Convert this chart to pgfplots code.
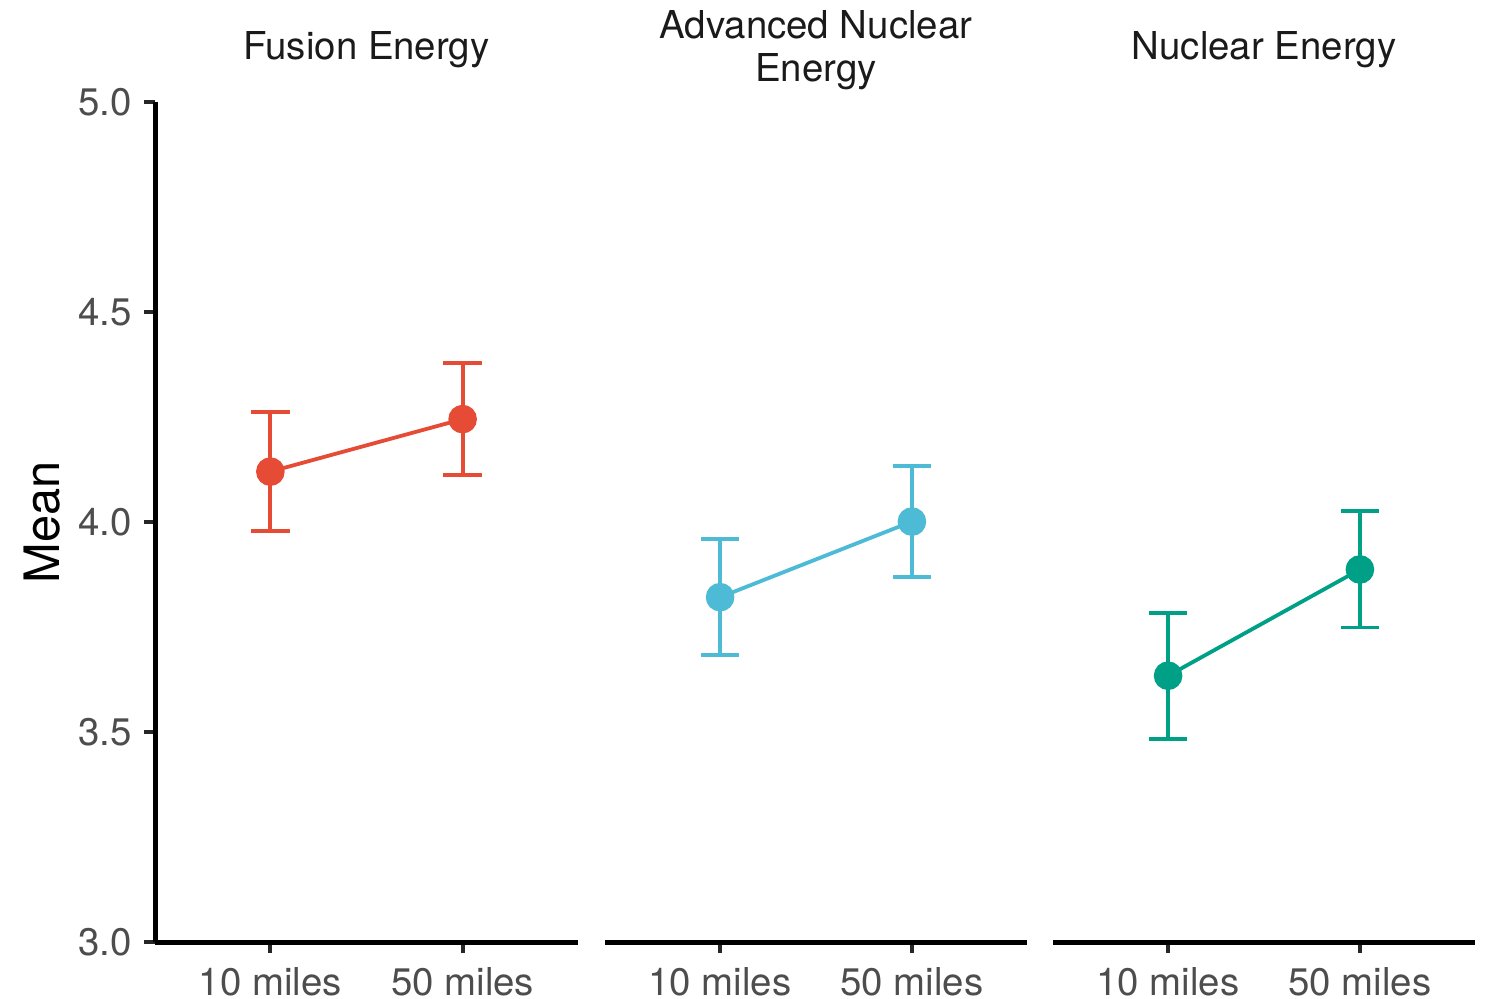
\documentclass[border=0pt]{standalone}
\usepackage{fontspec}
\setmainfont{TeX Gyre Heros}
\usepackage{pgfplots}
\pgfplotsset{compat=1.18}
\definecolor{npgred}{HTML}{E64B35}
\definecolor{npgblue}{HTML}{4DBBD5}
\definecolor{npggreen}{HTML}{00A087}
\definecolor{tickgrey}{HTML}{4D4D4D}
\definecolor{titlegrey}{HTML}{1A1A1A}
\pgfplotsset{
  panel/.style={
    scale only axis, height=210pt,
    anchor=south west,
    xmin=0.4, xmax=2.6, ymin=3, ymax=5,
    xtick={1,2}, xticklabels={10 miles,50 miles},
    axis x line*=bottom,
    tick align=outside,
    major tick length=2.75pt,
    ticklabel style={font=\fontsize{9.6}{11}\selectfont, text=tickgrey},
    axis line style={line width=1.25pt, black},
    every tick/.style={line width=1pt, black!85},
    clip=false,
    /pgf/number format/assume math mode=true,
    title style={at={(0.5,1)}, anchor=center, yshift=7pt, align=center,
      font=\fontsize{9.6}{10.6}\selectfont, text=titlegrey},
  },
  series/.style={color=#1, line width=0.95pt, mark=*, mark size=3.1pt,
    mark options={solid, fill=#1},
    error bars/.cd, y dir=both, y explicit, error mark=-,
    error bar style={line width=0.95pt, color=#1},
    error mark options={rotate=90, line width=0.95pt, mark size=4.8pt, color=#1}},
}
\begin{document}
\begin{tikzpicture}
\useasboundingbox (0,0) rectangle (372pt,249.5pt);
\begin{axis}[panel, at={(38.75pt,14pt)}, width=105.75pt,
  axis y line*=left,
  ytick={3,3.5,4,4.5,5},
  yticklabel style={xshift=0.5pt, /pgf/number format/.cd, fixed, fixed zerofill, precision=1},
  ylabel={Mean},
  ylabel style={at={(axis description cs:-0.267,0.5)}, anchor=center,
    font=\fontsize{12.2}{14}\selectfont, text=black},
  title={Fusion Energy}]
\addplot[series=npgred] coordinates {
  (1,4.120) += (0,0.141) -= (0,0.142)
  (2,4.245) += (0,0.133) -= (0,0.134)
};
\end{axis}
\begin{axis}[panel, at={(151.25pt,14pt)}, width=105.5pt,
  axis y line=none, ytick=\empty,
  title={Advanced Nuclear\\Energy}]
\addplot[series=npgblue] coordinates {
  (1,3.821) += (0,0.138) -= (0,0.138)
  (2,4.001) += (0,0.132) -= (0,0.132)
};
\end{axis}
\begin{axis}[panel, at={(263.25pt,14pt)}, width=105.5pt,
  axis y line=none, ytick=\empty,
  title={Nuclear Energy}]
\addplot[series=npggreen] coordinates {
  (1,3.634) += (0,0.150) -= (0,0.150)
  (2,3.887) += (0,0.140) -= (0,0.138)
};
\end{axis}
\end{tikzpicture}
\end{document}
